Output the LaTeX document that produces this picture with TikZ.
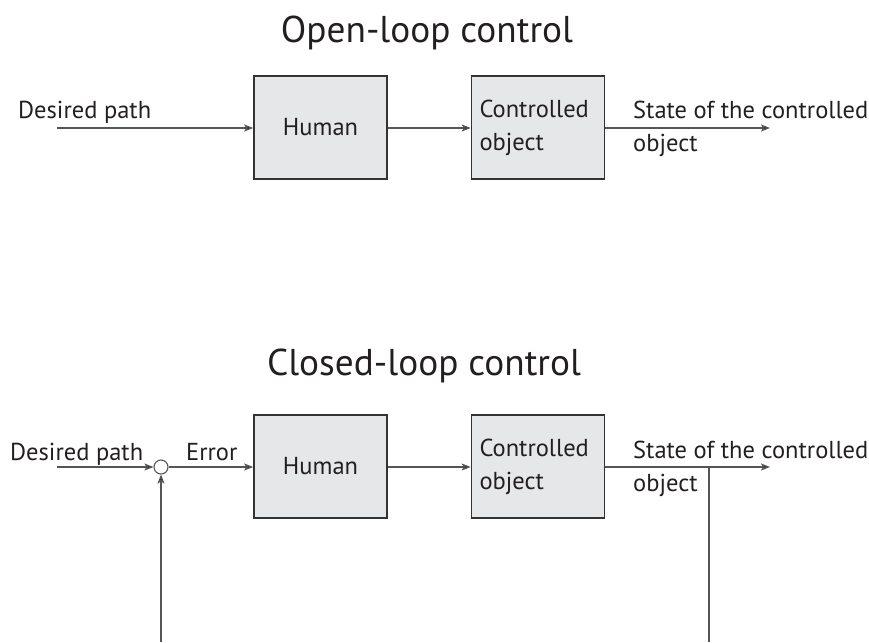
\documentclass[tikz,border=0pt]{standalone}
\usepackage{fontspec}
\setmainfont{PT Sans}
\usetikzlibrary{arrows.meta}
\definecolor{boxfill}{HTML}{E6E7E8}
\definecolor{boxline}{HTML}{333333}
\definecolor{wire}{HTML}{555555}
\definecolor{ink}{HTML}{231F20}
\begin{document}
\begin{tikzpicture}[x=1pt,y=-1pt,
  every node/.style={text=ink},
  title/.style={anchor=base,inner sep=0pt,font=\fontsize{37.3}{45}\selectfont},
  lbl/.style={anchor=base west,inner sep=0pt,align=left,font=\fontsize{24.5}{33}\selectfont},
  block/.style={draw=boxline,fill=boxfill,line width=1.6pt,minimum width=133pt,minimum height=103pt,
    font=\fontsize{24.5}{33}\selectfont},
  txtblock/.style={block,align=left,text width=117pt,inner xsep=8pt},
  sumpt/.style={circle,draw=wire,fill=white,line width=1.1pt,minimum size=14pt,inner sep=0pt},
  wireline/.style={draw=wire,line width=1.3pt},
  flow/.style={wireline,-{Stealth[length=9pt,width=7pt,inset=2pt,fill=ink]}}]
\useasboundingbox (0,0) rectangle (869,642);

% ---------- open loop ----------
\node[title] (t1) at (427,42) {Open-loop control};
\node[lbl] (dp1) at (18,118) {Desired path};
\coordinate (in1) at (57,128);
\node[block] (h1) at (320.5,127.5) {Human};
\node[txtblock] (c1) at (538,127.5) {Controlled\\object};
\coordinate (out1) at (770,128);
\node[lbl] (s1) at (633,151) {State of the controlled\\object};
\draw[flow] (in1) -- (h1.west |- in1);
\draw[flow] (h1.east |- in1) -- (c1.west |- in1);
\draw[flow] (c1.east |- in1) -- (out1);

% ---------- closed loop ----------
\node[title] (t2) at (424,375) {Closed-loop control};
\node[lbl] (dp2) at (10,460) {Desired path};
\node[lbl] (err) at (186,460) {Error};
\coordinate (in2) at (57,467);
\node[sumpt] (sum) at (161,467) {};
\node[block] (h2) at (320.5,466.5) {Human};
\node[txtblock] (c2) at (538,466.5) {Controlled\\object};
\coordinate (out2) at (770,467);
\coordinate (tap) at (709,467);
\coordinate (fbR) at (709,642);
\coordinate (fbL) at (161,642);
\node[lbl] (s2) at (633,491) {State of the controlled\\object};
\draw[flow] (in2) -- (sum.west);
\draw[flow] (sum.east) -- (h2.west |- in2);
\draw[flow] (h2.east |- in2) -- (c2.west |- in2);
\draw[flow] (c2.east |- in2) -- (out2);
\draw[wireline] (tap) -- (fbR);
\draw[flow] (fbL) -- (sum.south);
\end{tikzpicture}
\end{document}
